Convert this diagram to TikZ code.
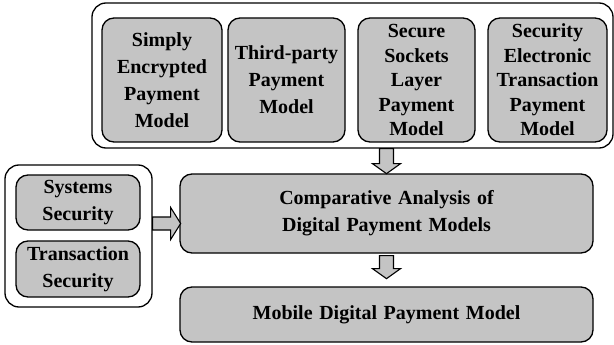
\documentclass[tikz,border=0pt]{standalone}
\usepackage{fontspec}
\setmainfont{Liberation Serif}
\usetikzlibrary{calc}
\definecolor{boxgray}{RGB}{196,196,196}
\tikzset{
  container/.style={draw=black, line width=1.3pt, rounded corners=14pt, fill=white,
    minimum width=#1, inner sep=0pt},
  modelbox/.style={draw=black, line width=1.3pt, rounded corners=12pt, fill=boxgray,
    inner sep=0pt, align=center, font=\bfseries\fontsize{20}{27}\selectfont},
  blockarrow/.style={draw=black, line width=1.1pt, fill=boxgray, line join=miter},
}
\begin{document}
\begin{tikzpicture}[x=1pt,y=-1pt]
\useasboundingbox (0,0) rectangle (614,345);

% top container and model boxes
\node[container=521pt, minimum height=145pt] (top) at (352.5,75.5) {};
\node[modelbox, minimum width=120pt, minimum height=124pt, text width=118pt] (m1) at (162,80)
  {Simply\\Encrypted\\Payment\\Model};
\node[modelbox, minimum width=117pt, minimum height=124pt, text width=115pt] (m2) at (286.5,80)
  {Third-party\\Payment\\Model};
\node[modelbox, minimum width=117pt, minimum height=124pt, text width=115pt,
  font=\bfseries\fontsize{20}{24.5}\selectfont] (m3) at (416.5,80)
  {Secure\\Sockets\\Layer\\Payment\\Model};
\node[modelbox, minimum width=119pt, minimum height=124pt, text width=117pt,
  font=\bfseries\fontsize{20}{24.5}\selectfont] (m4) at (547.5,80)
  {Security\\Electronic\\Transaction\\Payment\\Model};

% left container
\node[container=147pt, minimum height=142pt] (left) at (78.5,236) {};
\node[modelbox, minimum width=124pt, minimum height=55pt, text width=122pt] (sys) at (78,202.5)
  {Systems\\Security};
\node[modelbox, minimum width=124pt, minimum height=56pt, text width=122pt] (trans) at (78,269)
  {Transaction\\Security};

% central boxes
\node[modelbox, minimum width=413pt, minimum height=79pt, text width=400pt] (comp) at (386.5,213.5)
  {Comparative Analysis of\\Digital Payment Models};
\node[modelbox, minimum width=413pt, minimum height=55pt, text width=400pt] (mob) at (386.5,314.5)
  {Mobile Digital Payment Model};

% block arrows
\coordinate (a1) at (top.south -| comp.north);
\draw[blockarrow] (a1) ++(-7,0) -- ++(0,15) -- ++(-7,0) -- ++(14,10) -- ++(14,-10)
  -- ++(-7,0) -- ++(0,-15) -- cycle;
\coordinate (a2) at ($(comp.south)+(0,2)$);
\draw[blockarrow] (a2) ++(-7,0) -- ++(0,13) -- ++(-7,0) -- ++(14,10) -- ++(14,-10)
  -- ++(-7,0) -- ++(0,-13) -- cycle;
\coordinate (a3) at (left.east |- 0,223.5);
\draw[blockarrow] (a3) ++(0,-6.5) -- ++(18,0) -- ++(0,-9.5) -- ++(10,16) -- ++(-10,16)
  -- ++(0,-9.5) -- ++(-18,0) -- cycle;
\end{tikzpicture}
\end{document}
